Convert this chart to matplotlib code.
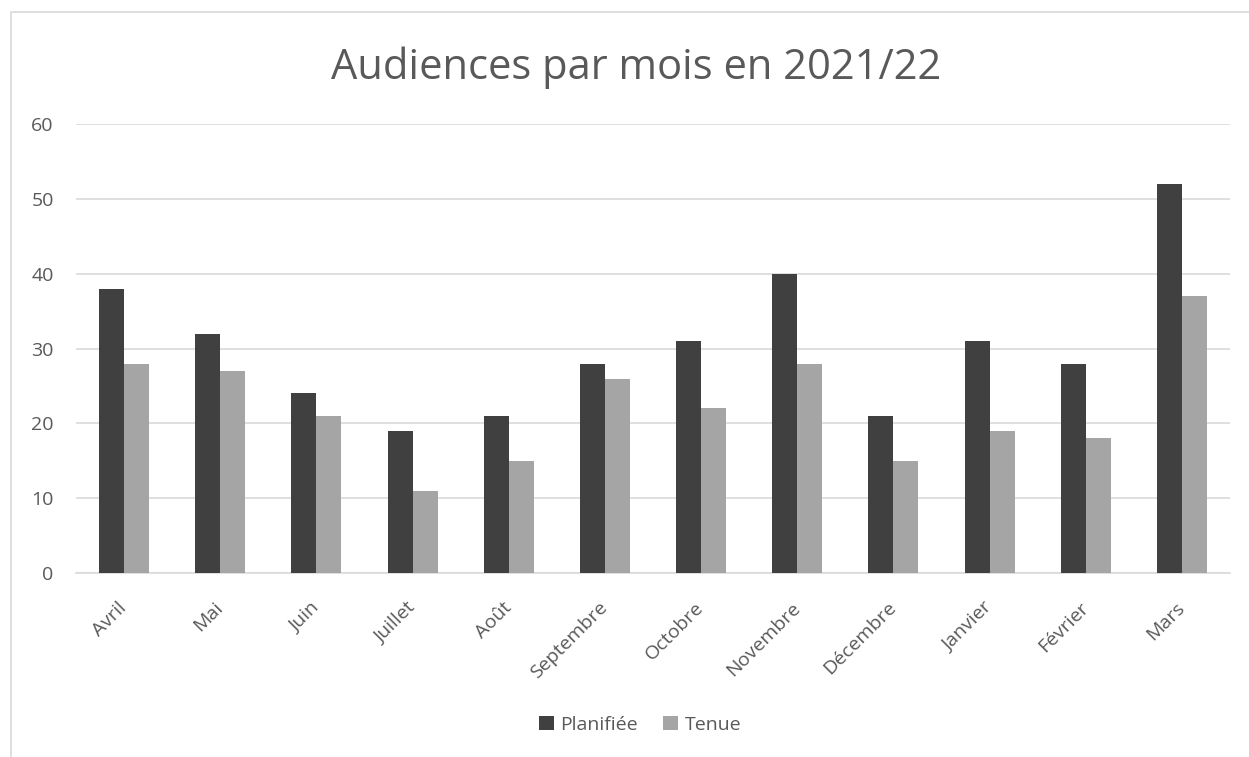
import matplotlib.pyplot as plt
import numpy as np
from matplotlib.patches import Rectangle

months = ['Avril', 'Mai', 'Juin', 'Juillet', 'Août', 'Septembre', 'Octobre',
          'Novembre', 'Décembre', 'Janvier', 'Février', 'Mars']
planifiee = [38, 32, 24, 19, 21, 28, 31, 40, 21, 31, 28, 52]
tenue = [28, 27, 21, 11, 15, 26, 22, 28, 15, 19, 18, 37]

plt.rcParams['font.family'] = ['Open Sans', 'DejaVu Sans']
txt = '#595959'

fig = plt.figure(figsize=(12.49, 7.57), dpi=100)
ax = fig.add_axes([0.0608, 0.243, 0.924, 0.593])

x = np.arange(len(months))
w = 0.26
ax.bar(x - w / 2, planifiee, w, color='#404040', label='Planifiée', zorder=3)
ax.bar(x + w / 2, tenue, w, color='#a5a5a5', label='Tenue', zorder=3)

ax.set_xlim(-0.5, len(months) - 0.5)
ax.set_ylim(0, 60)
ax.set_yticks(range(0, 61, 10))
ax.grid(axis='y', color='#d9d9d9', linewidth=1.2, zorder=0)
for s in ['top', 'right', 'left']:
    ax.spines[s].set_visible(False)
ax.spines['bottom'].set_color('#d9d9d9')
ax.spines['bottom'].set_linewidth(1.2)
ax.tick_params(length=0, labelsize=14, labelcolor=txt)
ax.tick_params(axis='y', pad=16)
ax.tick_params(axis='x', pad=23)
ax.set_xticks(x)
ax.set_xticklabels(months, rotation=45, ha='right', va='center', rotation_mode='anchor')

fig.text(0.509, 0.910, 'Audiences par mois en 2021/22', ha='center', va='center',
         fontsize=30, color=txt)

ax.legend(loc='center', bbox_to_anchor=(0.489, -0.338), ncol=2, frameon=False,
          fontsize=14, labelcolor=txt, handlelength=0.75, handleheight=0.75,
          handletextpad=0.35, columnspacing=1.3)

fig.patches.append(Rectangle((11 / 1249, -0.1), 1.2, 1 - 12 / 757 + 0.1, transform=fig.transFigure,
                             fill=False, edgecolor='#d9d9d9', linewidth=1.2))

fig.savefig('out.png', dpi=100)
